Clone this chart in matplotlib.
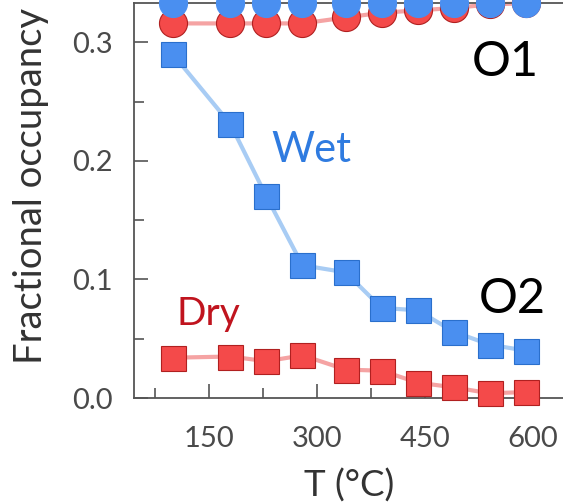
import matplotlib
matplotlib.use("Agg")
import matplotlib.pyplot as plt
from matplotlib.ticker import MultipleLocator

plt.rcParams['font.family'] = ['Lato', 'DejaVu Sans']

# Temperatures (°C)
temps = [100, 180, 230, 280, 340, 390, 440, 490, 540, 590]

# O1 site occupancy (circles)
o1_wet = [0.333, 0.333, 0.333, 0.333, 0.333, 0.333, 0.333, 0.333, 0.333, 0.333]
o1_dry = [0.316, 0.316, 0.316, 0.316, 0.321, 0.325, 0.327, 0.329, 0.332, 0.333]

# O2 site occupancy (squares)
o2_wet = [0.290, 0.231, 0.170, 0.112, 0.106, 0.076, 0.074, 0.056, 0.045, 0.040]
o2_dry = [0.034, 0.035, 0.031, 0.036, 0.024, 0.023, 0.013, 0.009, 0.004, 0.005]

xticks = [150, 300, 450, 600]
yticks = [0.0, 0.1, 0.2, 0.3]

blue = '#4a8ff0'
blue_edge = '#2a6fcc'
blue_line = '#a8ccf4'
red = '#f44a4a'
red_edge = '#b02020'
red_line = '#f5a3a3'

fig = plt.figure(figsize=(5.63, 5.04), dpi=100)
ax = fig.add_axes([0.238, 0.2103, 0.762, 0.784])

ax.plot(temps, o1_dry, '-', color=red_line, lw=3, zorder=1, clip_on=False)
ax.plot(temps, o2_dry, '-', color=red_line, lw=3, zorder=1)
ax.plot(temps, o2_wet, '-', color=blue_line, lw=3, zorder=1)

ax.plot(temps, o1_dry, 'o', ms=20.2, mfc=red, mec=red_edge, mew=0.8, zorder=3, clip_on=False)
ax.plot(temps, o1_wet, 'o', ms=20.2, mfc=blue, mec=blue, mew=0.8, zorder=4, clip_on=False)
ax.plot(temps, o2_dry, 's', ms=18, mfc=red, mec=red_edge, mew=0.8, zorder=3, clip_on=False)
ax.plot(temps, o2_wet, 's', ms=18, mfc=blue, mec=blue_edge, mew=0.8, zorder=3, clip_on=False)

ax.set_xlim(46, 642)
ax.set_ylim(0, 1 / 3)
ax.set_xticks(xticks)
ax.set_yticks(yticks)
ax.set_yticklabels([f'{v:.1f}' for v in yticks])
ax.xaxis.set_minor_locator(MultipleLocator(75))
ax.yaxis.set_minor_locator(MultipleLocator(0.05))

ax.tick_params(which='both', direction='in', colors='#555555', labelcolor='#4a4a4a',
               labelsize=21, width=1.2)
ax.tick_params(which='major', length=10)
ax.tick_params(which='minor', length=7)
ax.tick_params(axis='x', pad=20)
ax.tick_params(axis='y', pad=15)
ax.spines['right'].set_visible(False)
for s in ('left', 'bottom', 'top'):
    ax.spines[s].set_color('#555555')
    ax.spines[s].set_linewidth(1.3)

ax.set_xlabel('T (°C)', fontsize=26.5, color='#333333')
ax.set_ylabel('Fractional occupancy', fontsize=27.5, color='#333333')
ax.xaxis.set_label_coords(0.501, -0.178)
ax.yaxis.set_label_coords(-0.198, 0.537)

ax.text(293, 0.1995, 'Wet', color='#2f7be0', fontsize=30, ha='center', va='baseline')
ax.text(150, 0.0617, 'Dry', color='#c0141e', fontsize=28, ha='center', va='baseline')
ax.text(562, 0.2713, 'O1', color='black', fontsize=35, ha='center', va='baseline')
ax.text(571, 0.0718, 'O2', color='black', fontsize=35, ha='center', va='baseline')

fig.savefig('out.png', dpi=100)
